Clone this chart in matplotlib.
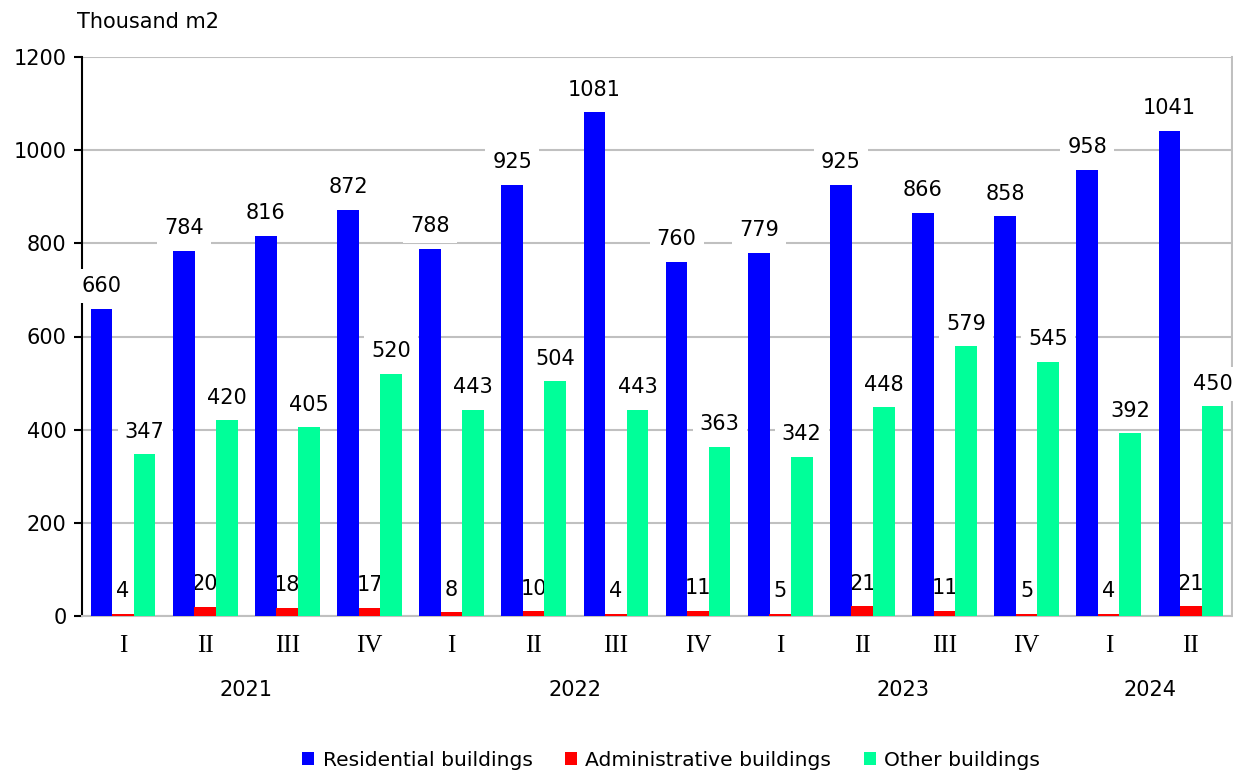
import matplotlib
matplotlib.use("Agg")
import matplotlib.pyplot as plt
import numpy as np

quarters = ["I", "II", "III", "IV", "I", "II", "III", "IV", "I", "II", "III", "IV", "I", "II"]
years = ["2021", "2022", "2023", "2024"]
year_groups = [[0, 1, 2, 3], [4, 5, 6, 7], [8, 9, 10, 11], [12, 13]]
residential = [660, 784, 816, 872, 788, 925, 1081, 760, 779, 925, 866, 858, 958, 1041]
administrative = [4, 20, 18, 17, 8, 10, 4, 11, 5, 21, 11, 5, 4, 21]
other = [347, 420, 405, 520, 443, 504, 443, 363, 342, 448, 579, 545, 392, 450]
series_names = ["Residential buildings", "Administrative buildings", "Other buildings"]
colors = ["#0000FF", "#FF0000", "#00FF99"]

plt.rcParams['font.family'] = ['DejaVu Sans']
FS = 15
W, H = 1233, 772
fig = plt.figure(figsize=(W / 100, H / 100), dpi=100)
ax = fig.add_axes([82 / W, 1 - 616 / H, (1232 - 82) / W, (616 - 57) / H])

x = np.arange(len(quarters))
bw = 0.265
off = 0.262
series = [residential, administrative, other]
bars = []
for k, (vals, col, name) in enumerate(zip(series, colors, series_names)):
    b = ax.bar(x + (k - 1) * off, vals, width=bw, color=col, label=name, zorder=3)
    bars.append(b)

for k, vals in enumerate(series):
    for i, v in enumerate(vals):
        if k == 1:
            ax.annotate(str(v), (x[i] + (k - 1) * off, v), xytext=(0, 12.0),
                        textcoords="offset points", ha="center", va="baseline",
                        fontsize=FS, zorder=2.5)
        else:
            ax.annotate(str(v), (x[i] + (k - 1) * off, v), xytext=(0, 12.0),
                        textcoords="offset points", ha="center", va="baseline",
                        fontsize=FS, zorder=5,
                        bbox=dict(boxstyle="square,pad=0.34", fc="white", ec="none"))

ax.set_xlim(-0.5, len(quarters) - 0.5)
ax.set_ylim(0, 1200)
ax.set_yticks(np.arange(0, 1201, 200))
ax.tick_params(axis="y", labelsize=FS, length=6, width=1.5, color="black", pad=5)
ax.yaxis.grid(True, color="#C0C0C0", lw=1.5, zorder=0)
ax.set_axisbelow(True)
ax.spines["left"].set_color("black")
ax.spines["left"].set_linewidth(1.5)
ax.spines["top"].set_visible(False)
ax.spines["right"].set_color("#C0C0C0")
ax.spines["right"].set_linewidth(1.5)
ax.spines["bottom"].set_color("#C0C0C0")
ax.spines["bottom"].set_linewidth(1.5)

ax.set_xticks(x)
ax.set_xticklabels(quarters, fontsize=18, family=["Liberation Serif", "DejaVu Serif"])
ax.tick_params(axis="x", length=0, pad=14)

for yr, grp in zip(years, year_groups):
    cx = (grp[0] + grp[-1]) / 2
    ax.annotate(yr, (cx, 0), xycoords=("data", "axes fraction"), xytext=(0, -53.5),
                textcoords="offset points", ha="center", va="center", fontsize=FS,
                annotation_clip=False)

fig.text(77 / W, 1 - 22 / H, "Thousand m2", fontsize=FS, ha="left", va="center")

fig.legend(handles=bars, labels=series_names, loc="center", ncol=3,
           bbox_to_anchor=(671 / W, 1 - 760 / H), frameon=False, fontsize=14.6,
           handlelength=0.6, handleheight=0.6, handletextpad=0.4, columnspacing=1.6)

fig.savefig("out.png", dpi=100)
